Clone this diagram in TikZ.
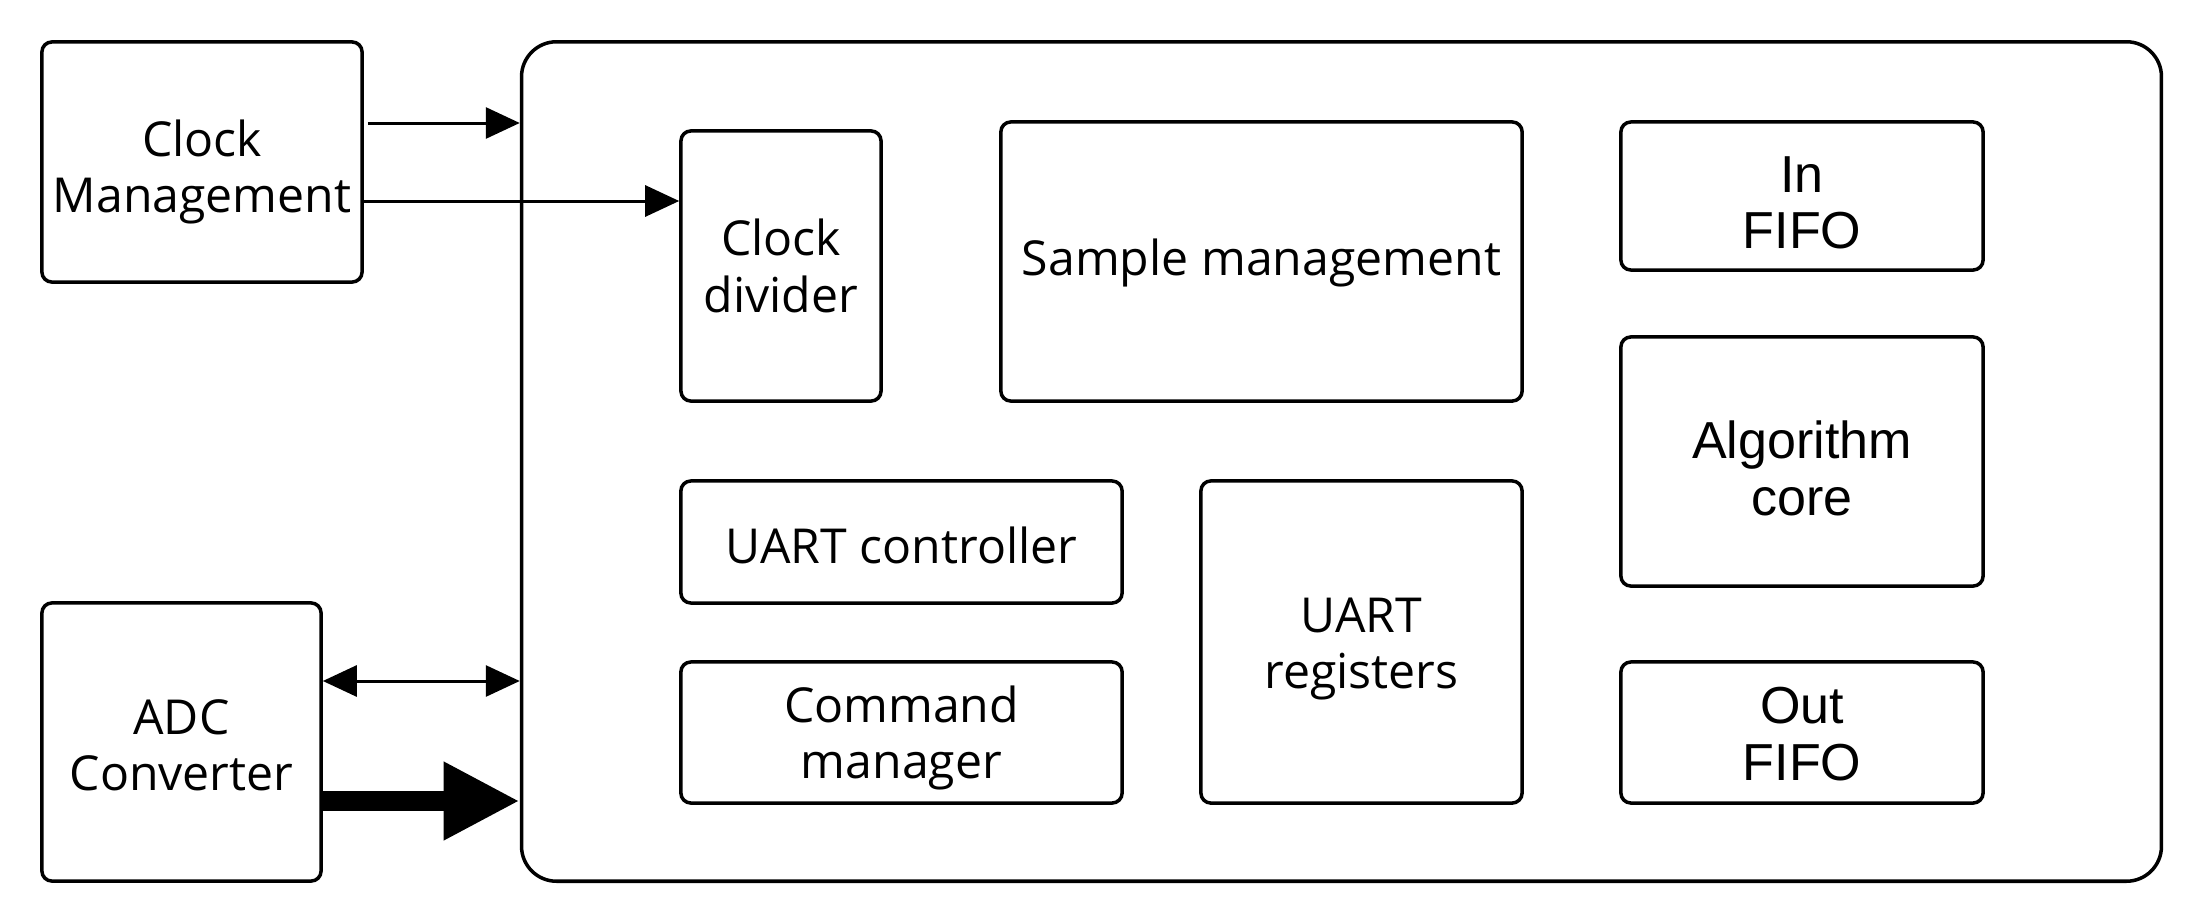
\documentclass[tikz,border=0pt]{standalone}
\usepackage{fontspec}
\setmainfont{Open Sans}
\newfontfamily\arialfont{Liberation Sans}
\usetikzlibrary{arrows.meta}
\begin{document}
\begin{tikzpicture}[x=0.01cm,y=-0.01cm,
  box/.style={draw,line width=0.035cm,rounded corners=0.1cm,inner sep=0pt},
  txt/.style={align=center,inner sep=0pt,font=\fontsize{13.7}{16}\selectfont},
  atxt/.style={align=center,inner sep=0pt,font=\arialfont\fontsize{14.8}{16}\selectfont},
  arr/.style={line width=0.03cm,-{Triangle[length=0.34cm,width=0.31cm]}},
  darr/.style={line width=0.03cm,{Triangle[length=0.34cm,width=0.31cm]}-{Triangle[length=0.34cm,width=0.31cm]}},
  thick arr/.style={line width=0.2cm,-{Triangle[length=0.76cm,width=0.73cm]}}]
\useasboundingbox (0,0) rectangle (2208,924);
\node[box,minimum width=3.2cm,minimum height=2.4cm,
  label={[txt,yshift=-0.1cm]center:{Clock\\Management}}] (cm) at (202,162) {};
\node[box,minimum width=2.79cm,minimum height=2.78cm,
  label={[txt,yshift=-0.035cm]center:{ADC\\Converter}}] (adc) at (181.5,742) {};
\node[box,rounded corners=0.35cm,minimum width=16.39cm,minimum height=8.39cm] (main) at (1341.5,461.5) {};
\node[box,minimum width=2.0cm,minimum height=2.7cm,
  label={[txt]center:{Clock\\divider}}] (cd) at (781,266) {};
\node[box,minimum width=5.21cm,minimum height=2.79cm,
  label={[txt,yshift=-0.015cm]center:{Sample management}}] (sm) at (1261.5,261.5) {};
\node[box,minimum width=3.62cm,minimum height=1.48cm,
  label={[atxt,yshift=-0.07cm]center:{In\\FIFO}}] (inf) at (1802,196) {};
\node[box,minimum width=3.62cm,minimum height=2.49cm,
  label={[atxt,yshift=-0.07cm]center:{Algorithm\\core}}] (alg) at (1802,461.5) {};
\node[box,minimum width=4.41cm,minimum height=1.22cm,
  label={[txt,yshift=-0.03cm]center:{UART controller}}] (uc) at (901.5,542) {};
\node[box,minimum width=4.41cm,minimum height=1.41cm,
  label={[txt,yshift=-0.055cm]center:{Command\\manager}}] (cmd) at (901.5,732.5) {};
\node[box,minimum width=3.21cm,minimum height=3.22cm,
  label={[txt,yshift=-0.07cm]center:{UART\\registers}}] (ur) at (1361.5,642) {};
\node[box,minimum width=3.62cm,minimum height=1.41cm,
  label={[atxt,yshift=-0.015cm]center:{Out\\FIFO}}] (outf) at (1802,732.5) {};
\coordinate (y1) at (0,123);
\coordinate (y2) at (0,201);
\coordinate (y3) at (0,681);
\coordinate (y4) at (0,801);
\draw[arr] ([xshift=0.04cm]cm.east |- y1) -- (main.west |- y1);
\draw[arr] (cm.east |- y2) -- (cd.west |- y2);
\draw[darr] (adc.east |- y3) -- (main.west |- y3);
\draw[thick arr] (adc.east |- y4) -- (main.west |- y4);
\end{tikzpicture}
\end{document}
